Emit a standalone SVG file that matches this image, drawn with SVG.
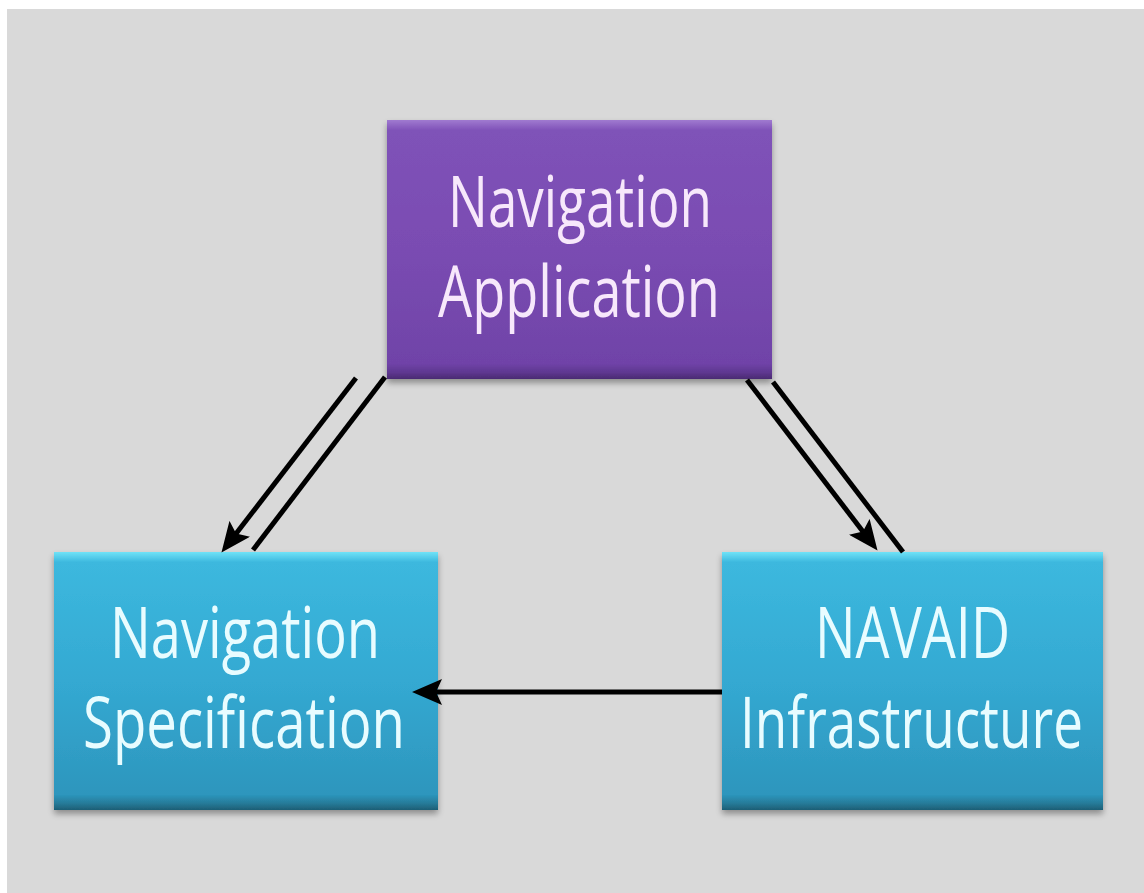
<svg xmlns="http://www.w3.org/2000/svg" width="1144" height="893" viewBox="0 0 1144 893">
<style>
.lbl{font-family:"Open Sans","Noto Sans","Liberation Sans",sans-serif;font-size:72px;text-anchor:middle}
.pt{fill:#f7e8fb}
.ct{fill:#e8fcff}
.conn{stroke:#000;stroke-width:5;fill:none}
</style>
<defs>
<linearGradient id="gPurple" x1="0" y1="0" x2="0" y2="1">
<stop offset="0" stop-color="#a07ad0"/>
<stop offset="0.04" stop-color="#7f52b8"/>
<stop offset="0.5" stop-color="#7a4cb2"/>
<stop offset="0.94" stop-color="#7043a8"/>
<stop offset="0.975" stop-color="#5e3790"/>
<stop offset="1" stop-color="#4a2a72"/>
</linearGradient>
<linearGradient id="gCyan" x1="0" y1="0" x2="0" y2="1">
<stop offset="0" stop-color="#6fe2f7"/>
<stop offset="0.04" stop-color="#3cb8de"/>
<stop offset="0.5" stop-color="#34a9d2"/>
<stop offset="0.94" stop-color="#2d96bd"/>
<stop offset="0.975" stop-color="#267a98"/>
<stop offset="1" stop-color="#1d5e75"/>
</linearGradient>
<filter id="sh" x="-5%" y="-5%" width="110%" height="115%">
<feGaussianBlur in="SourceAlpha" stdDeviation="3"/>
<feOffset dy="4" result="b"/>
<feComponentTransfer><feFuncA type="linear" slope="0.35"/></feComponentTransfer>
<feMerge><feMergeNode/><feMergeNode in="SourceGraphic"/></feMerge>
</filter>
<marker id="ah" markerUnits="userSpaceOnUse" markerWidth="32" markerHeight="26" refX="16" refY="13" orient="auto" viewBox="0 0 32 26">
<path d="M0,0 L30,13 L0,26 L6,13 z" fill="#000"/>
</marker>
</defs>
<rect x="0" y="0" width="1144" height="893" fill="#ffffff"/>
<rect x="7" y="9" width="1137" height="884" fill="#d9d9d9"/>

<g id="node-navigation-application">
<rect x="387" y="120" width="385" height="259" fill="url(#gPurple)" filter="url(#sh)"/>
<text class="lbl pt" x="580" y="227" textLength="264" lengthAdjust="spacingAndGlyphs">Navigation</text>
<text class="lbl pt" x="579" y="317" textLength="282" lengthAdjust="spacingAndGlyphs">Application</text>
</g>

<g id="node-navigation-specification">
<rect x="54" y="552" width="384" height="258" fill="url(#gCyan)" filter="url(#sh)"/>
<text class="lbl ct" x="245" y="658" textLength="270" lengthAdjust="spacingAndGlyphs">Navigation</text>
<text class="lbl ct" x="244" y="748" textLength="322" lengthAdjust="spacingAndGlyphs">Specification</text>
</g>

<g id="node-navaid-infrastructure">
<rect x="722" y="552" width="381" height="258" fill="url(#gCyan)" filter="url(#sh)"/>
<text class="lbl ct" x="912.5" y="658" textLength="195" lengthAdjust="spacingAndGlyphs">NAVAID</text>
<text class="lbl ct" x="911.5" y="748" textLength="343" lengthAdjust="spacingAndGlyphs">Infrastructure</text>
</g>

<g id="connectors">
<line class="conn" x1="356" y1="378" x2="230" y2="541.5" marker-end="url(#ah)"/>
<line class="conn" x1="385" y1="377" x2="253" y2="550"/>
<line class="conn" x1="747" y1="380" x2="869" y2="539.5" marker-end="url(#ah)"/>
<line class="conn" x1="773" y1="382" x2="903" y2="552"/>
<line class="conn" x1="722" y1="692" x2="426" y2="692" marker-end="url(#ah)"/>
</g>
</svg>
